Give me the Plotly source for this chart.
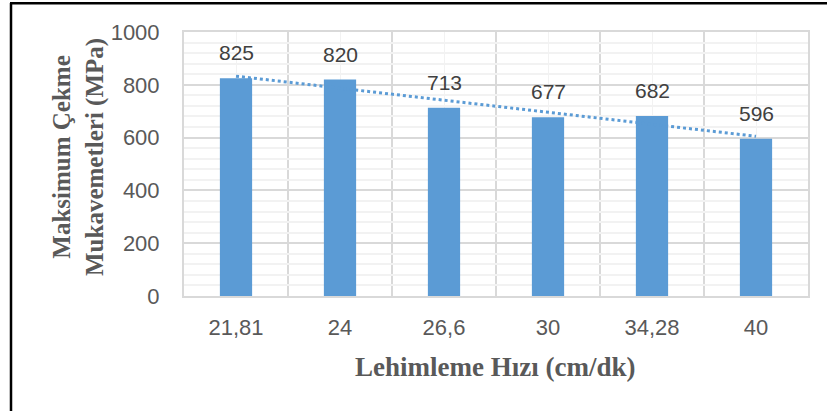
import numpy as np
import plotly.graph_objects as go

categories = ["21,81", "24", "26,6", "30", "34,28", "40"]
values = [825, 820, 713, 677, 682, 596]
y_ticks = [0, 200, 400, 600, 800, 1000]

W, H = 827, 411
ML, MR, MT, MB = 184, 19, 32, 115
PW, PH = W - ML - MR, H - MT - MB


def px_x(px):
    return (px - ML) / PW


def px_y(py):
    return (H - MB - py) / PH


pos = np.arange(1, len(categories) + 1)
coef = np.polyfit(pos, values, 1)
trend = np.polyval(coef, pos)

fig = go.Figure()
fig.add_trace(go.Bar(x=pos, y=values, width=0.31, marker=dict(color="#5b9bd5", line=dict(width=0)),
                     showlegend=False, hoverinfo="skip"))
fig.add_trace(go.Scatter(x=pos, y=trend, mode="lines", line=dict(color="#5b9bd5", width=3, dash="dot"),
                         showlegend=False, hoverinfo="skip"))

for xv, v in zip(pos, values):
    fig.add_annotation(x=xv, y=v, text=str(v), showarrow=False, yanchor="bottom", yshift=12,
                       font=dict(family="Liberation Sans", size=21, color="#404040"))

fig.add_annotation(xref="paper", yref="paper", x=px_x(78), y=px_y(157), text="Maksimum Çekme<br>Mukavemetleri (MPa)",
                   textangle=-90, showarrow=False, xanchor="center", yanchor="middle",
                   font=dict(family="Liberation Serif", size=25, color="#595959", weight="bold"))
fig.add_annotation(xref="paper", yref="paper", x=px_x(495), y=px_y(367), text="Lehimleme Hızı (cm/dk)",
                   showarrow=False, xanchor="center", yanchor="middle",
                   font=dict(family="Liberation Serif", size=27, color="#595959", weight="bold"))

# chart outer border (left and top)
fig.add_shape(type="line", xref="paper", yref="paper", x0=px_x(11), x1=px_x(11), y0=px_y(3), y1=px_y(411),
              line=dict(color="black", width=2.5))
fig.add_shape(type="line", xref="paper", yref="paper", x0=px_x(10), x1=px_x(827), y0=px_y(3.2), y1=px_y(3.2),
              line=dict(color="black", width=2.5))

fig.update_layout(
    width=W, height=H, margin=dict(l=ML, r=MR, t=MT, b=MB),
    paper_bgcolor="white", plot_bgcolor="white", bargap=0.69,
    xaxis=dict(range=[0.5, 6.5], tickvals=pos, ticktext=categories, showgrid=True, gridcolor="#f2f2f2",
               gridwidth=1, zeroline=False, showline=True, mirror=True, linecolor="#d9d9d9", linewidth=2,
               ticks="", ticklabelstandoff=11,
               tickfont=dict(family="Liberation Sans", size=22, color="#595959"),
               minor=dict(tick0=0.5, dtick=1, showgrid=True, gridcolor="#d9d9d9", gridwidth=2)),
    yaxis=dict(range=[0, 1000], tickvals=y_ticks, showgrid=True, gridcolor="#d9d9d9", gridwidth=2,
               zeroline=False, showline=True, mirror=True, linecolor="#d9d9d9", linewidth=2,
               ticks="", ticklabelstandoff=18,
               tickfont=dict(family="Liberation Sans", size=22, color="#595959"),
               minor=dict(dtick=40, showgrid=True, gridcolor="#f2f2f2", gridwidth=2)),
)

fig.write_html("out.html", post_script="document.body.style.margin='0';",
               config={"displayModeBar": False})
